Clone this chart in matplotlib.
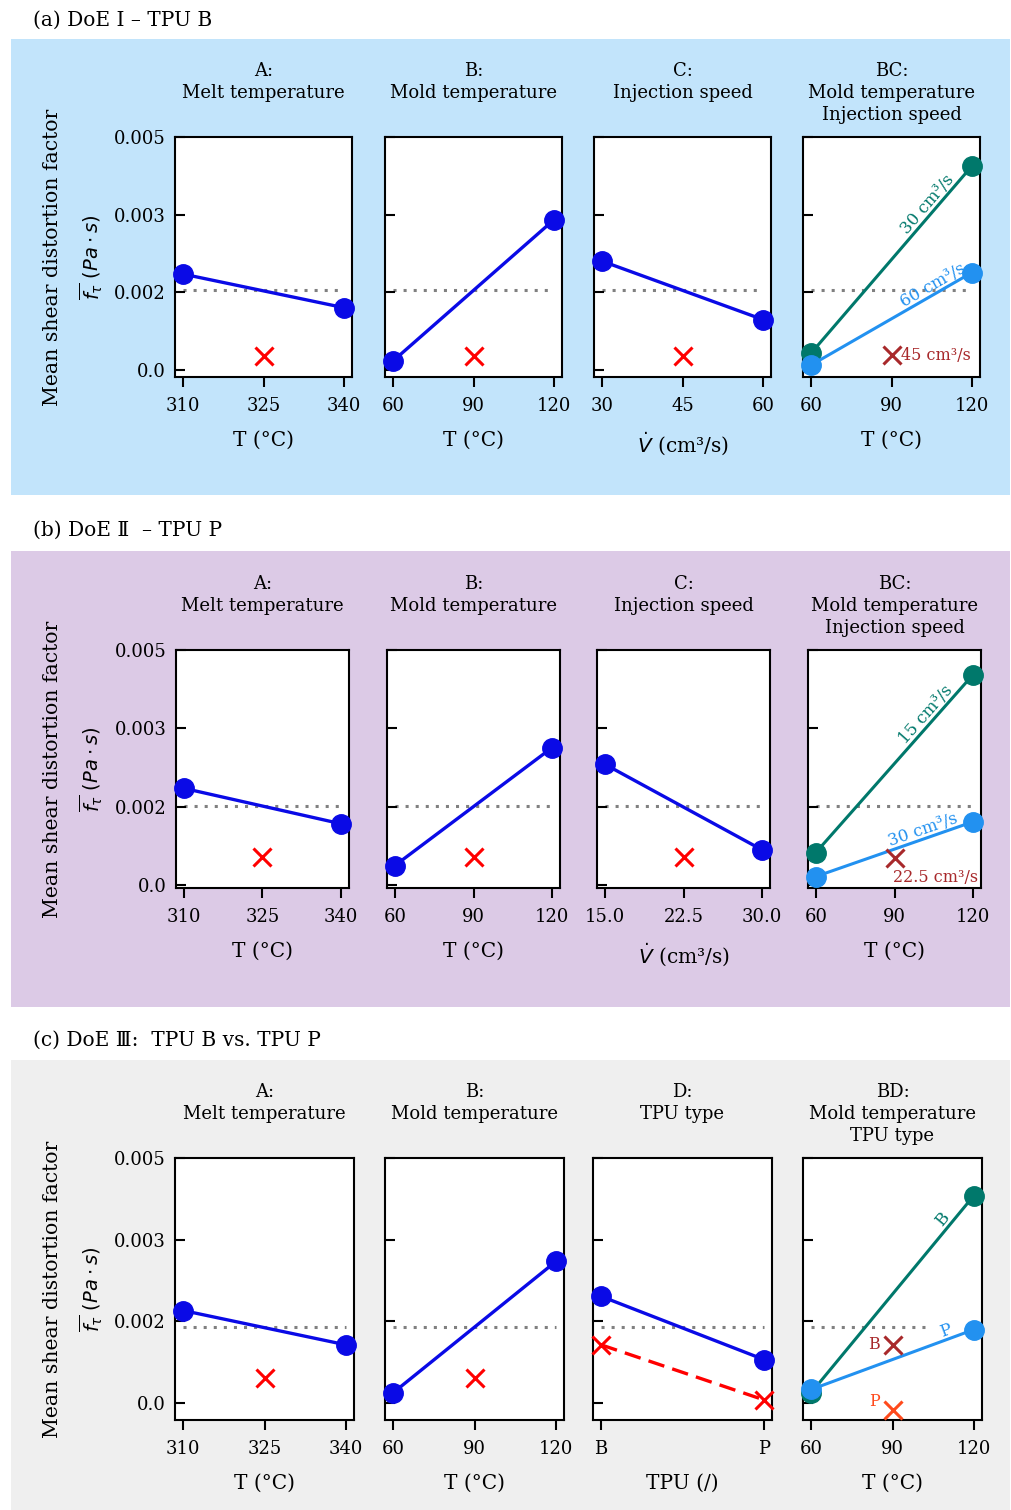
import numpy as np
import matplotlib.pyplot as plt
from matplotlib.patches import Rectangle

plt.rcParams['font.family'] = ['DejaVu Serif', 'DejaVu Sans']
plt.rcParams['font.size'] = 13

# factor levels
melt_T = [310, 340]
melt_T_center = 325
mold_T = [60, 120]
mold_T_center = 90
speed_1 = [30, 60]
speed_1_center = 45
speed_2 = [15.0, 30.0]
speed_2_center = 22.5
tpu_types = ['B', 'P']

# DoE I - TPU B
doe1_A = [0.00185, 0.00120]
doe1_B = [0.00017, 0.00290]
doe1_C = [0.00210, 0.00097]
doe1_BC_30 = [0.00032, 0.00394]
doe1_BC_60 = [0.00009, 0.00188]
doe1_center = 0.00026
doe1_BC_center = 0.00028
doe1_mean = 0.00154

# DoE II - TPU P
doe2_A = [0.00185, 0.00117]
doe2_B = [0.00037, 0.00263]
doe2_C = [0.00231, 0.00067]
doe2_BC_15 = [0.00062, 0.00403]
doe2_BC_30 = [0.00016, 0.00121]
doe2_center = 0.00054
doe2_BC_center = 0.00052
doe2_mean = 0.00151

# DoE III - TPU B vs TPU P
doe3_A = [0.00170, 0.00107]
doe3_B = [0.00019, 0.00260]
doe3_D = [0.00196, 0.00080]
doe3_D_center = [0.00107, 0.00006]
doe3_BD_B = [0.00019, 0.00381]
doe3_BD_P = [0.00025, 0.00135]
doe3_center = 0.00047
doe3_BD_center_B = 0.00107
doe3_BD_center_P = -0.00012
doe3_mean = 0.00140
doe3_BD_mean_end = 103

y_ticks = [0, 0.0015, 0.003, 0.0045]
y_ticklabels = ['0.0', '0.002', '0.003', '0.005']

BLUE = '#0a0ae6'
TEAL = '#00786b'
LIGHT = '#2291f0'
DARKRED = '#a8292b'
ORANGE = '#ff4a1c'

W, H = 1011, 1510
fig = plt.figure(figsize=(W / 100, H / 100), dpi=100)

# coloured panel backgrounds and headings
for top, bottom, color, head, head_y in [
        (39, 495, '#c2e4fb', '(a) DoE I – TPU B', 20),
        (551, 1007, '#dccae6', '(b) DoE Ⅱ  – TPU P', 530),
        (1060, 1510, '#efefef', '(c) DoE Ⅲ:  TPU B vs. TPU P', 1040)]:
    fig.add_artist(Rectangle((11 / W, 1 - bottom / H), 999 / W, (bottom - top) / H,
                             transform=fig.transFigure, facecolor=color,
                             edgecolor='none', zorder=-5))
    fig.text(33 / W, 1 - head_y / H, head, ha='left', va='center', fontsize=14.5)


def make_axes(left, top, width, height, xlevels, xticklabels, xlabel, ybottom,
              title, first):
    ax = fig.add_axes([left / W, 1 - (top + height) / H, width / W, height / H])
    ax.set_ylim(ybottom, 0.0045)
    ax.set_yticks(y_ticks)
    if first:
        ax.set_yticklabels(y_ticklabels)
        fig.text(53 / W, 1 - (top + height / 2) / H, 'Mean shear distortion factor',
                 rotation=90, ha='center', va='center', fontsize=14.7)
        fig.text(91 / W, 1 - (top + height / 2) / H,
                 r'$\overline{f_{\tau}}\ (Pa \cdot s)$',
                 rotation=90, ha='center', va='center', fontsize=14)
    else:
        ax.tick_params(axis='y', labelleft=False)
    span = xlevels[-1] - xlevels[0]
    ax.set_xlim(xlevels[0] - 0.05 * span, xlevels[-1] + 0.05 * span)
    ax.set_xticks(xlevels)
    ax.set_xticklabels(xticklabels)
    ax.set_xlabel(xlabel, labelpad=11, fontsize=14.5)
    ax.tick_params(axis='y', direction='in', length=7, width=1.5, pad=7)
    ax.tick_params(axis='x', direction='out', length=7, width=1.5, pad=7.5)
    for s in ax.spines.values():
        s.set_linewidth(1.5)
    ax.text(0.5, 1 + 75 / height, title, transform=ax.transAxes, ha='center',
            va='top', linespacing=1.3)
    return ax


def mean_line(ax, xs, mean):
    ax.plot(xs, [mean, mean], ls=(0, (1, 2.3)), color='#808080', lw=2.2, zorder=1)


def main_effect(ax, xs, ys, xc, yc, mean):
    mean_line(ax, xs, mean)
    ax.plot(xs, ys, '-o', color=BLUE, lw=2.4, ms=14, clip_on=False, zorder=3)
    ax.plot([xc], [yc], 'x', color='red', ms=13, mew=2.2, zorder=3)


def line_label(ax, xs, ys, xt, text, color, lift=1.0):
    yt = np.interp(xt, xs, ys)
    ang = np.degrees(np.arctan2(ys[1] - ys[0], xs[1] - xs[0]))
    ax.text(xt, yt, text, color=color, rotation=ang, transform_rotates_text=True,
            rotation_mode='anchor', ha='center', va='bottom', fontsize=12)


temp_label = 'T (°C)'
speed_label = r'$\dot{V}$ (cm³/s)'

# ---- (a) ----
top, h, w = 137, 240, 177
lefts = [175, 385, 594, 803]
yb = -0.00014
ax = make_axes(lefts[0], top, w, h, [310, 325, 340], ['310', '325', '340'], temp_label,
               yb, 'A:\nMelt temperature', True)
main_effect(ax, melt_T, doe1_A, melt_T_center, doe1_center, doe1_mean)
ax = make_axes(lefts[1], top, w, h, [60, 90, 120], ['60', '90', '120'], temp_label,
               yb, 'B:\nMold temperature', False)
main_effect(ax, mold_T, doe1_B, mold_T_center, doe1_center, doe1_mean)
ax = make_axes(lefts[2], top, w, h, [30, 45, 60], ['30', '45', '60'], speed_label,
               yb, 'C:\nInjection speed', False)
main_effect(ax, speed_1, doe1_C, speed_1_center, doe1_center, doe1_mean)
ax = make_axes(lefts[3], top, w, h, [60, 90, 120], ['60', '90', '120'], temp_label,
               yb, 'BC:\nMold temperature\nInjection speed', False)
mean_line(ax, mold_T, doe1_mean)
ax.plot(mold_T, doe1_BC_30, '-o', color=TEAL, lw=2.2, ms=14, clip_on=False, zorder=3)
ax.plot(mold_T, doe1_BC_60, '-o', color=LIGHT, lw=2.2, ms=14, clip_on=False, zorder=4)
ax.plot([mold_T_center], [doe1_BC_center], 'x', color=DARKRED, ms=13, mew=2.2, zorder=4)
line_label(ax, mold_T, doe1_BC_30, 106, '30 cm³/s', TEAL)
line_label(ax, mold_T, doe1_BC_60, 107, '60 cm³/s', LIGHT)
ax.annotate('45 cm³/s', (mold_T_center, doe1_BC_center), xytext=(7, 0),
            textcoords='offset points', ha='left', va='center', color=DARKRED,
            fontsize=11.5)

# ---- (b) ----
top, h, w = 650, 238, 173
lefts = [176, 387, 597, 808]
yb = -0.00006
ax = make_axes(lefts[0], top, w, h, [310, 325, 340], ['310', '325', '340'], temp_label,
               yb, 'A:\nMelt temperature', True)
main_effect(ax, melt_T, doe2_A, melt_T_center, doe2_center, doe2_mean)
ax = make_axes(lefts[1], top, w, h, [60, 90, 120], ['60', '90', '120'], temp_label,
               yb, 'B:\nMold temperature', False)
main_effect(ax, mold_T, doe2_B, mold_T_center, doe2_center, doe2_mean)
ax = make_axes(lefts[2], top, w, h, [15, 22.5, 30], ['15.0', '22.5', '30.0'],
               speed_label, yb, 'C:\nInjection speed', False)
main_effect(ax, speed_2, doe2_C, speed_2_center, doe2_center, doe2_mean)
ax = make_axes(lefts[3], top, w, h, [60, 90, 120], ['60', '90', '120'], temp_label,
               yb, 'BC:\nMold temperature\nInjection speed', False)
mean_line(ax, mold_T, doe2_mean)
ax.plot(mold_T, doe2_BC_15, '-o', color=TEAL, lw=2.2, ms=14, clip_on=False, zorder=3)
ax.plot(mold_T, doe2_BC_30, '-o', color=LIGHT, lw=2.2, ms=14, clip_on=False, zorder=4)
ax.plot([mold_T_center], [doe2_BC_center], 'x', color=DARKRED, ms=13, mew=2.2, zorder=4)
line_label(ax, mold_T, doe2_BC_15, 104.6, '15 cm³/s', TEAL)
line_label(ax, mold_T, doe2_BC_30, 102, '30 cm³/s', LIGHT)
ax.annotate('22.5 cm³/s', (mold_T_center, doe2_BC_center), xytext=(-1, -14),
            textcoords='offset points', ha='left', va='center', color=DARKRED,
            fontsize=11.5)

# ---- (c) ----
top, h, w = 1158, 262, 179
lefts = [175, 385, 593, 803]
yb = -0.00031
ax = make_axes(lefts[0], top, w, h, [310, 325, 340], ['310', '325', '340'], temp_label,
               yb, 'A:\nMelt temperature', True)
main_effect(ax, melt_T, doe3_A, melt_T_center, doe3_center, doe3_mean)
ax = make_axes(lefts[1], top, w, h, [60, 90, 120], ['60', '90', '120'], temp_label,
               yb, 'B:\nMold temperature', False)
main_effect(ax, mold_T, doe3_B, mold_T_center, doe3_center, doe3_mean)
ax = make_axes(lefts[2], top, w, h, [0, 1], tpu_types, 'TPU (/)',
               yb, 'D:\nTPU type', False)
mean_line(ax, [0, 1], doe3_mean)
ax.plot([0, 1], doe3_D, '-o', color=BLUE, lw=2.4, ms=14, clip_on=False, zorder=3)
ax.plot([0, 1], doe3_D_center, '--x', color='red', lw=2.4, dashes=(5, 2.5),
        ms=13, mew=2.2, clip_on=False, zorder=3)
ax = make_axes(lefts[3], top, w, h, [60, 90, 120], ['60', '90', '120'], temp_label,
               yb, 'BD:\nMold temperature\nTPU type', False)
mean_line(ax, [mold_T[0], doe3_BD_mean_end], doe3_mean)
ax.plot(mold_T, doe3_BD_B, '-o', color=TEAL, lw=2.2, ms=14, clip_on=False, zorder=3)
ax.plot(mold_T, doe3_BD_P, '-o', color=LIGHT, lw=2.2, ms=14, clip_on=False, zorder=4)
ax.plot([mold_T_center], [doe3_BD_center_B], 'x', color=DARKRED, ms=13, mew=2.2, zorder=4)
ax.plot([mold_T_center], [doe3_BD_center_P], 'x', color=ORANGE, ms=13, mew=2.2,
        clip_on=False, zorder=4)
line_label(ax, mold_T, doe3_BD_B, 111, 'B', TEAL)
line_label(ax, mold_T, doe3_BD_P, 110.7, 'P', LIGHT)
ax.annotate('B', (mold_T_center, doe3_BD_center_B), xytext=(-9, 0),
            textcoords='offset points', ha='right', va='center', color=DARKRED,
            fontsize=11.5)
ax.annotate('P', (mold_T_center, doe3_BD_center_P), xytext=(-9, 6),
            textcoords='offset points', ha='right', va='center', color=ORANGE,
            fontsize=11.5)

fig.savefig('out.png', dpi=100)
